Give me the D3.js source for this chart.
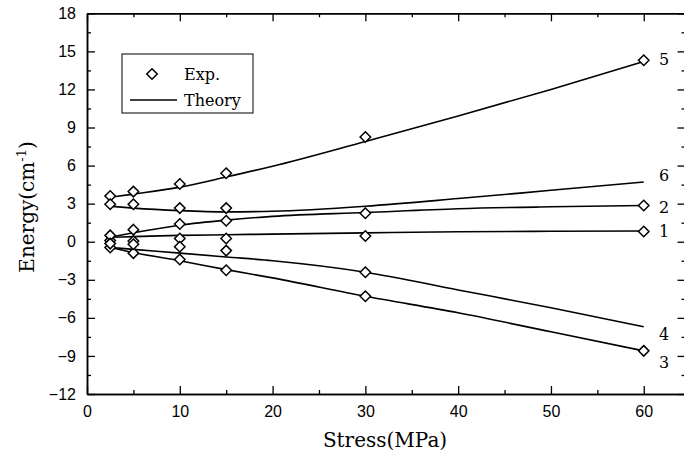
<!DOCTYPE html>
<html>
<head>
<meta charset="utf-8">
<script src="https://cdn.jsdelivr.net/npm/d3@7"></script>
<style>
  body { margin: 0; background: #fff; }
  svg { display: block; font-family: "DejaVu Serif", serif; }
</style>
</head>
<body>
<svg id="chart" width="684" height="459"></svg>
<script>
// experimental points
const stress = [2.5, 5, 10, 15, 30, 60];
const exp1 = [0.1, 0.05, 0.25, 0.25, 0.45, 0.8];
const exp2 = [0.5, 0.95, 1.4, 1.65, 2.25, 2.85];
const exp3 = [-0.45, -0.9, -1.4, -2.25, -4.3, -8.6];
const exp4 = [-0.15, -0.2, -0.4, -0.7, -2.4, null];
const exp5 = [3.6, 3.95, 4.55, 5.4, 8.25, 14.3];
const exp6 = [2.95, 2.95, 2.65, 2.65, null, null];

// theory curves
const thStress = [2.5, 5, 10, 15, 20, 30, 40, 50, 60];
const th1 = [0.35, 0.4, 0.5, 0.55, 0.6, 0.7, 0.78, 0.82, 0.85];
const th2 = [0.35, 0.7, 1.3, 1.7, 2.0, 2.3, 2.6, 2.75, 2.85];
const th3 = [-0.45, -0.85, -1.5, -2.2, -2.85, -4.3, -5.6, -7.1, -8.6];
const th4 = [-0.45, -0.6, -0.9, -1.2, -1.5, -2.4, -3.8, -5.2, -6.7];
const th5 = [3.5, 3.75, 4.3, 5.1, 5.95, 7.9, 9.9, 12.0, 14.2];
const th6 = [2.8, 2.65, 2.45, 2.35, 2.4, 2.8, 3.4, 4.05, 4.7];

const seriesNames = ["1", "2", "3", "4", "5", "6"];
const expAll = [exp1, exp2, exp3, exp4, exp5, exp6];
const thAll = [th1, th2, th3, th4, th5, th6];

const xTicks = [0, 10, 20, 30, 40, 50, 60];
const yTicks = [-12, -9, -6, -3, 0, 3, 6, 9, 12, 15, 18];

const svg = d3.select("#chart");

const x = d3.scaleLinear().domain([0, 64.5]).range([87, 685.5]);
const y = d3.scaleLinear().domain([-12, 18]).range([394, 13.3]);

const xMinor = d3.range(5, 65, 10);
const yMinor = d3.range(-10.5, 18, 3);

function styleAxis(g) {
    g.selectAll("path").attr("stroke", "#000").attr("stroke-width", 1.5);
    g.selectAll("line").attr("stroke", "#000").attr("stroke-width", 1.3);
    g.selectAll("text").attr("fill", "#000").attr("font-size", 16);
}

// bottom
svg.append("g").attr("transform", `translate(0,${y(-12)})`)
    .call(d3.axisBottom(x).tickValues(xTicks).tickSizeInner(-8).tickSizeOuter(0).tickPadding(12).tickFormat(d3.format("d")))
    .call(styleAxis);
svg.append("g").attr("transform", `translate(0,${y(-12)})`)
    .call(d3.axisBottom(x).tickValues(xMinor).tickSizeInner(-4).tickSizeOuter(0).tickFormat(""))
    .call(styleAxis);
// top
svg.append("g").attr("transform", `translate(0,${y(18)})`)
    .call(d3.axisTop(x).tickValues(xTicks).tickSizeInner(-8).tickSizeOuter(0).tickFormat(""))
    .call(styleAxis);
svg.append("g").attr("transform", `translate(0,${y(18)})`)
    .call(d3.axisTop(x).tickValues(xMinor).tickSizeInner(-4).tickSizeOuter(0).tickFormat(""))
    .call(styleAxis);
// left
svg.append("g").attr("transform", `translate(${x(0)},0)`)
    .call(d3.axisLeft(y).tickValues(yTicks).tickSizeInner(-8).tickSizeOuter(0).tickPadding(11).tickFormat(d3.format("d")))
    .call(styleAxis);
svg.append("g").attr("transform", `translate(${x(0)},0)`)
    .call(d3.axisLeft(y).tickValues(yMinor).tickSizeInner(-4).tickSizeOuter(0).tickFormat(""))
    .call(styleAxis);
// right
svg.append("g").attr("transform", `translate(${x(64.5)},0)`)
    .call(d3.axisRight(y).tickValues(yTicks).tickSizeInner(-8).tickSizeOuter(0).tickFormat(""))
    .call(styleAxis);
svg.append("g").attr("transform", `translate(${x(64.5)},0)`)
    .call(d3.axisRight(y).tickValues(yMinor).tickSizeInner(-4).tickSizeOuter(0).tickFormat(""))
    .call(styleAxis);

// theory curves
const line = d3.line()
    .x((d, i) => x(thStress[i]))
    .y(d => y(d))
    .curve(d3.curveMonotoneX);

svg.append("g").selectAll("path")
    .data(thAll)
    .join("path")
    .attr("d", line)
    .attr("fill", "none")
    .attr("stroke", "#000")
    .attr("stroke-width", 1.6);

// diamonds
const diamond = d3.symbol().type(d3.symbolDiamond2).size(70);
const pts = [];
expAll.forEach(arr => arr.forEach((v, i) => { if (v !== null) pts.push([stress[i], v]); }));

svg.append("g").selectAll("path")
    .data(pts)
    .join("path")
    .attr("d", diamond)
    .attr("transform", d => `translate(${x(d[0])},${y(d[1])})`)
    .attr("fill", "#fff")
    .attr("stroke", "#000")
    .attr("stroke-width", 1.5);

// curve labels at right end
const labelShift = { "1": 6, "2": 7, "3": 17, "4": 13, "5": 3, "6": -1 };
svg.append("g").selectAll("text")
    .data(seriesNames)
    .join("text")
    .attr("x", 659)
    .attr("y", (d, i) => y(thAll[i][thAll[i].length - 1]) + labelShift[d])
    .attr("font-size", 16)
    .text(d => d);

// legend
const lg = svg.append("g");
lg.append("rect").attr("x", 122).attr("y", 54).attr("width", 131).attr("height", 59)
    .attr("fill", "#fff").attr("stroke", "#000").attr("stroke-width", 1);
lg.append("path").attr("d", diamond).attr("transform", "translate(152,74)")
    .attr("fill", "#fff").attr("stroke", "#000").attr("stroke-width", 1.5);
lg.append("line").attr("x1", 130).attr("x2", 177).attr("y1", 100).attr("y2", 100)
    .attr("stroke", "#000").attr("stroke-width", 1.5);
lg.append("text").attr("x", 184).attr("y", 80).attr("font-size", 16).text("Exp.");
lg.append("text").attr("x", 184).attr("y", 106).attr("font-size", 16).text("Theory");

// axis titles
svg.append("text")
    .attr("x", 385).attr("y", 447)
    .attr("text-anchor", "middle")
    .attr("font-size", 20)
    .text("Stress(MPa)");

const yt = svg.append("text")
    .attr("transform", "translate(34,207) rotate(-90)")
    .attr("text-anchor", "middle")
    .attr("font-size", 20);
yt.append("tspan").text("Energy(cm");
yt.append("tspan").attr("font-size", 13).attr("dy", -8).text("-1");
yt.append("tspan").attr("dy", 8).text(")");
</script>
</body>
</html>
